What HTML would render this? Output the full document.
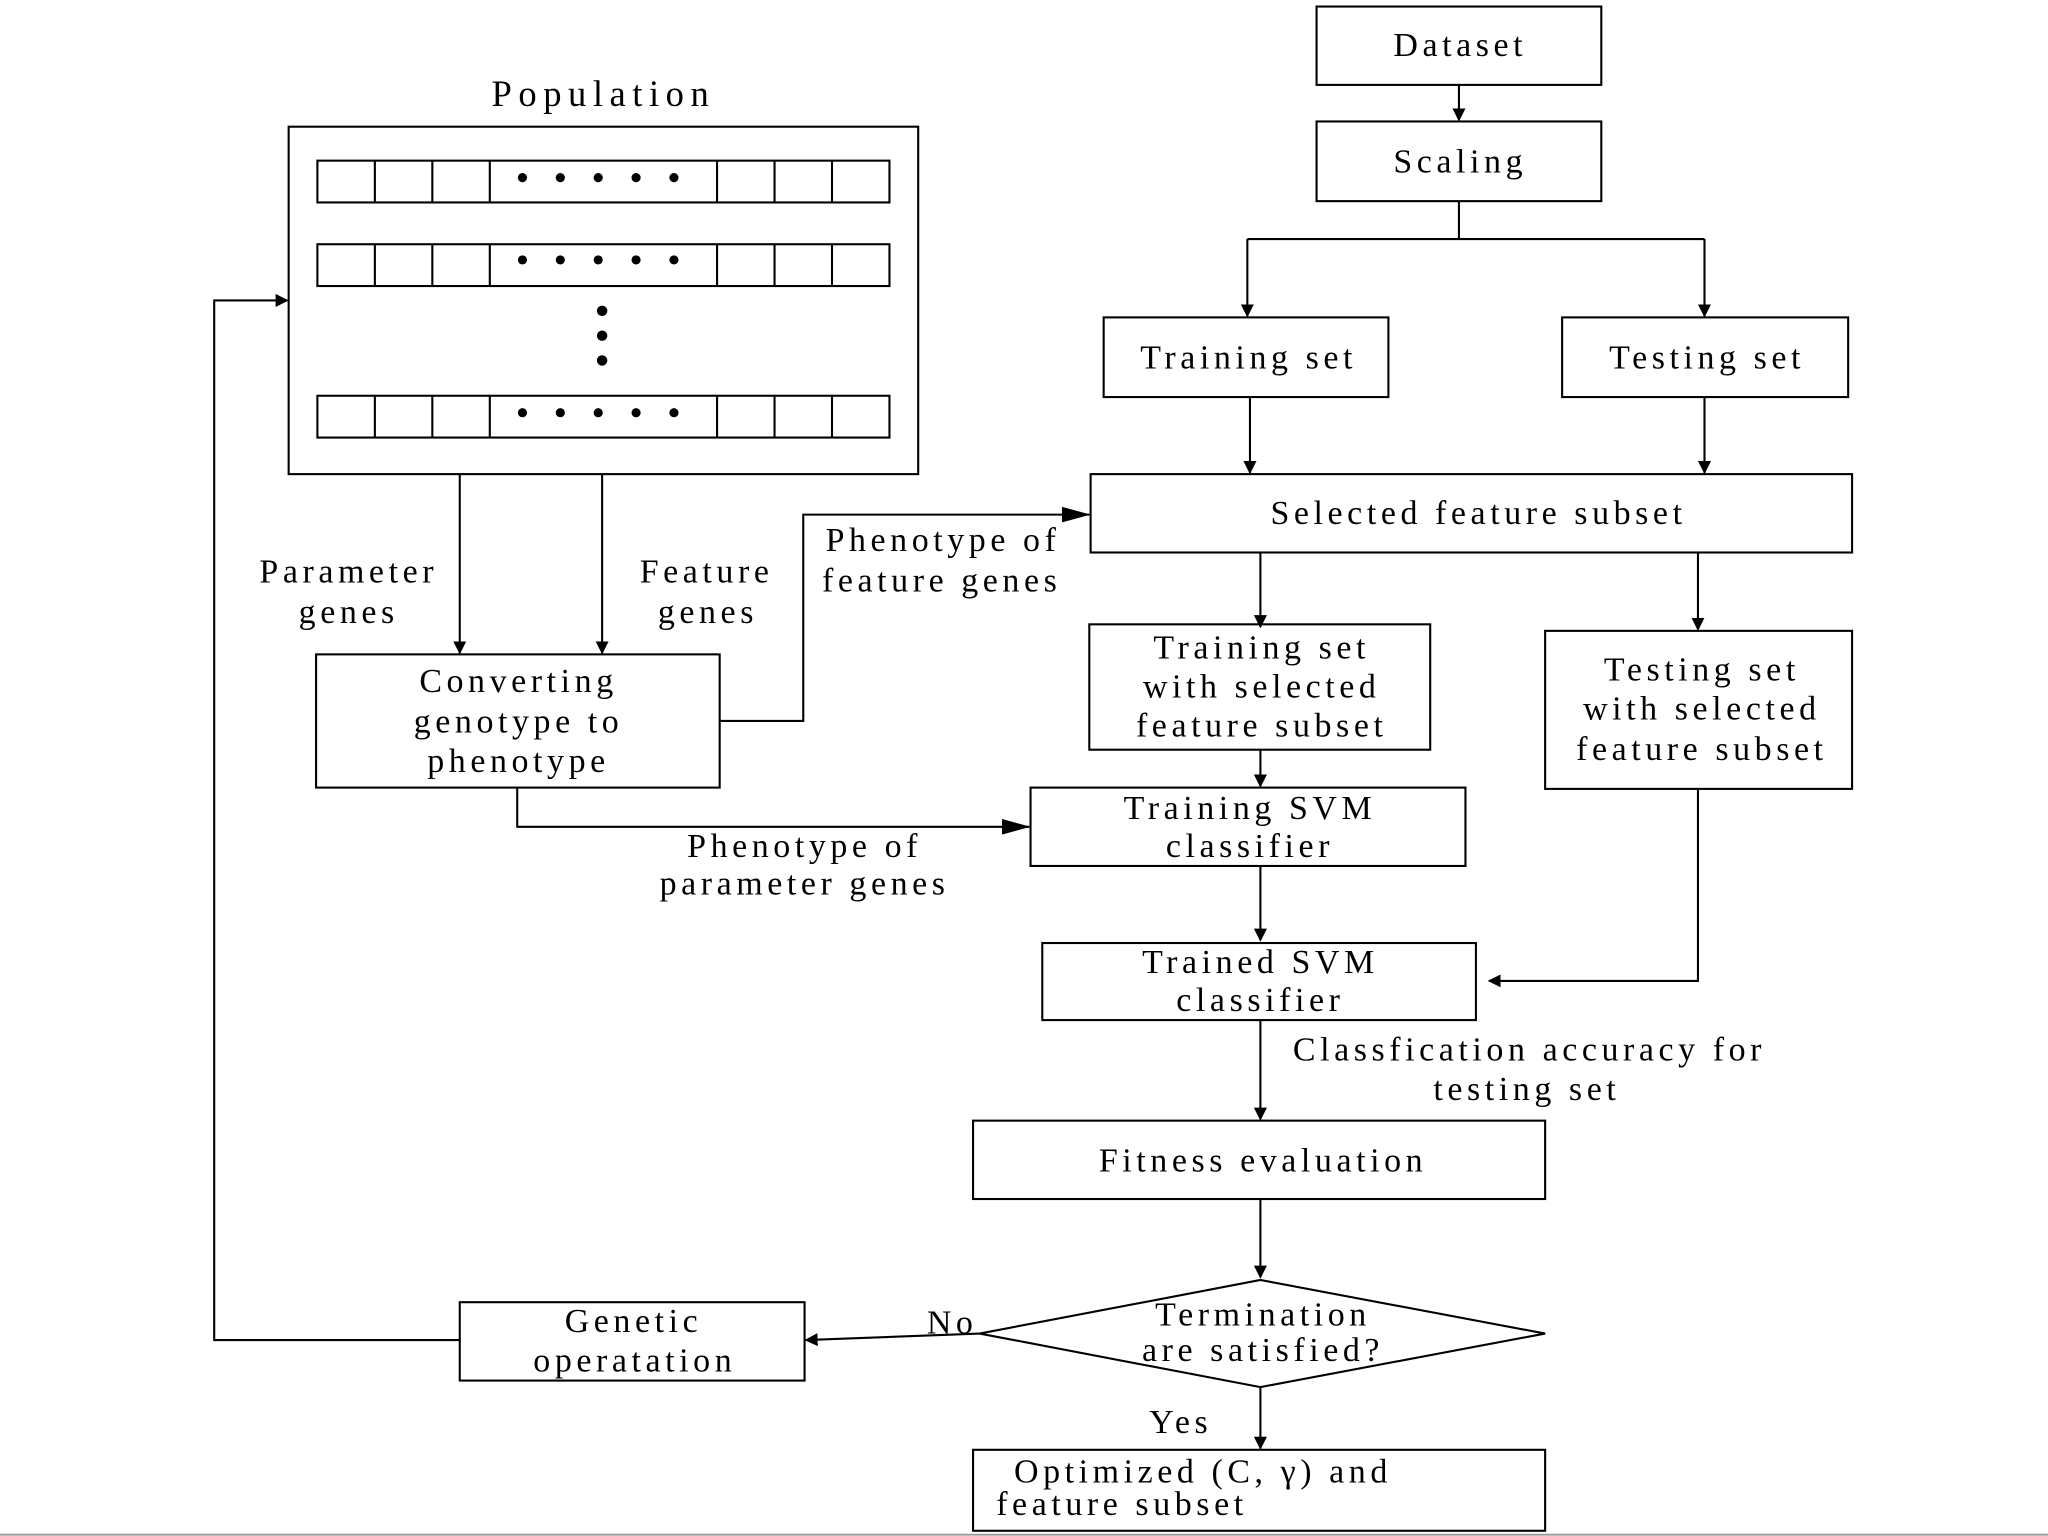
<!DOCTYPE html>
<html><head><style>html,body{margin:0;padding:0;background:#fff;}svg{display:block;}</style></head>
<body>
<svg width="2048" height="1536" viewBox="0 0 1568 1176" xmlns="http://www.w3.org/2000/svg">
<defs><marker id="a" markerWidth="10" markerHeight="10" refX="9" refY="5" orient="auto" markerUnits="userSpaceOnUse"><path d="M0,0 L10,5 L0,10 z" fill="#000"/></marker>
<marker id="b" markerWidth="22" markerHeight="12" refX="21" refY="6" orient="auto" markerUnits="userSpaceOnUse"><path d="M0,0 L22,6 L0,12 z" fill="#000"/></marker></defs>
<rect width="1568" height="1176" fill="#fff"/>
<line x1="0" y1="1175" x2="1568" y2="1175" stroke="#999" stroke-width="1.5"/>
<g fill="none" stroke="#000" stroke-width="1.6">
<rect x="221" y="97" width="482" height="266"/>
<g id="row"><rect x="243" y="123" width="438" height="32"/>
<path d="M287 123v32M331 123v32M375 123v32M549 123v32M593 123v32M637 123v32"/></g>
<use href="#row" y="64"/><use href="#row" y="180"/>
<rect x="1008" y="5" width="218" height="60"/>
<rect x="1008" y="93" width="218" height="61"/>
<rect x="845" y="243" width="218" height="61"/>
<rect x="1196" y="243" width="219" height="61"/>
<rect x="835" y="363" width="583" height="60"/>
<rect x="834" y="478" width="261" height="96"/>
<rect x="1183" y="483" width="235" height="121"/>
<rect x="789" y="603" width="333" height="60"/>
<rect x="798" y="722" width="332" height="59"/>
<rect x="745" y="858" width="438" height="60"/>
<polygon points="965,980 1183,1021 965,1062 750,1021"/>
<rect x="352" y="997" width="264" height="60"/>
<rect x="745" y="1110" width="438" height="62"/>
<rect x="242" y="501" width="309" height="102"/>
</g>
<g fill="#000">
<g id="dots"><circle cx="400" cy="136" r="3.5"/><circle cx="429" cy="136" r="3.5"/><circle cx="458" cy="136" r="3.5"/><circle cx="487" cy="136" r="3.5"/><circle cx="516" cy="136" r="3.5"/></g>
<use href="#dots" y="63"/><use href="#dots" y="180"/>
<circle cx="461" cy="238" r="4"/><circle cx="461" cy="257" r="4"/><circle cx="461" cy="276" r="4"/>
</g>
<g fill="none" stroke="#000" stroke-width="1.6">
<path d="M1117 65V92" marker-end="url(#a)"/>
<path d="M1117 154V183H955M1117 183H1305"/>
<path d="M955 183V242" marker-end="url(#a)"/>
<path d="M1305 183V242" marker-end="url(#a)"/>
<path d="M957 304V362" marker-end="url(#a)"/>
<path d="M1305 304V362" marker-end="url(#a)"/>
<path d="M965 423V480" marker-end="url(#a)"/>
<path d="M1300 423V482" marker-end="url(#a)"/>
<path d="M965 574V602" marker-end="url(#a)"/>
<path d="M965 663V720" marker-end="url(#a)"/>
<path d="M1300 604V751H1140" marker-end="url(#a)"/>
<path d="M965 781V857" marker-end="url(#a)"/>
<path d="M965 918V978" marker-end="url(#a)"/>
<path d="M750 1021L617 1026" marker-end="url(#a)"/>
<path d="M352 1026H164V230H220" marker-end="url(#a)"/>
<path d="M965 1062V1109" marker-end="url(#a)"/>
<path d="M352 363V500" marker-end="url(#a)"/>
<path d="M461 363V500" marker-end="url(#a)"/>
<path d="M551 552H615V394H834" marker-end="url(#b)"/>
<path d="M396 603V633H788" marker-end="url(#b)"/>
</g>
<g font-family="'Liberation Serif',serif" font-size="26" letter-spacing="3.5" text-anchor="middle" fill="#000">
<text x="462" y="81" font-size="28" letter-spacing="5">Population</text>
<text x="1118" y="43">Dataset</text>
<text x="1118" y="132">Scaling</text>
<text x="956" y="282">Training set</text>
<text x="1307" y="282">Testing set</text>
<text x="1132" y="401">Selected feature subset</text>
<text x="966" y="504">Training set</text>
<text x="966" y="534">with selected</text>
<text x="966" y="564">feature subset</text>
<text x="1303" y="521">Testing set</text>
<text x="1303" y="551">with selected</text>
<text x="1303" y="582">feature subset</text>
<text x="957" y="627">Training SVM</text>
<text x="957" y="656">classifier</text>
<text x="965" y="745">Trained SVM</text>
<text x="965" y="774">classifier</text>
<text x="1171" y="812">Classfication accuracy for</text>
<text x="1169" y="842">testing set</text>
<text x="967" y="897">Fitness evaluation</text>
<text x="967" y="1015">Termination</text>
<text x="967" y="1042">are satisfied?</text>
<text x="729" y="1021">No</text>
<text x="485" y="1020">Genetic</text>
<text x="486" y="1050">operatation</text>
<text x="904" y="1097">Yes</text>
<text x="921" y="1135">Optimized (C, γ) and</text>
<text x="859" y="1160">feature subset</text>
<text x="267" y="446">Parameter</text>
<text x="267" y="477">genes</text>
<text x="541" y="446">Feature</text>
<text x="542" y="477">genes</text>
<text x="397" y="530">Converting</text>
<text x="397" y="561">genotype to</text>
<text x="397" y="591">phenotype</text>
<text x="722" y="422">Phenotype of</text>
<text x="721" y="453">feature genes</text>
<text x="616" y="656">Phenotype of</text>
<text x="616" y="685">parameter genes</text>
</g>
</svg>
</body></html>
